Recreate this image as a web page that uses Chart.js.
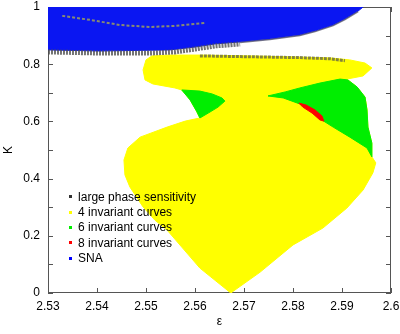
<!DOCTYPE html>
<html>
<head>
<meta charset="utf-8">
<script src="https://cdn.jsdelivr.net/npm/chart.js@4/dist/chart.umd.min.js"></script>
<style>
  body { margin: 0; background: #fff; }
  #wrap { width: 400px; height: 334px; }
</style>
</head>
<body>
<div id="wrap"><canvas id="phaseCanvas" width="400" height="334"></canvas></div>
<script>
// region outlines in (epsilon, K)
// 4 invariant curves: upper lobe, lower lobe and the waist between the green patches
const fourCurvesUpper = [
  [2.5951, 0.640], [2.5947, 0.685], [2.5931, 0.720], [2.5910, 0.748], [2.5943, 0.759],
  [2.5961, 0.787], [2.5947, 0.804], [2.5916, 0.815], [2.5876, 0.822], [2.5814, 0.825],
  [2.5712, 0.829], [2.5610, 0.832], [2.5549, 0.832], [2.5512, 0.829], [2.5500, 0.815],
  [2.5494, 0.780], [2.5498, 0.745], [2.5514, 0.731], [2.5559, 0.717], [2.5573, 0.710],
  [2.5590, 0.675], [2.5604, 0.633], [2.5610, 0.612], [2.5951, 0.600]
];
const fourCurvesLower = [
  [2.5604, 0.633], [2.5610, 0.612], [2.5580, 0.601], [2.5543, 0.580], [2.5488, 0.545],
  [2.5463, 0.507], [2.5455, 0.465], [2.5457, 0.413], [2.5467, 0.371], [2.5494, 0.301],
  [2.5518, 0.255], [2.5543, 0.220], [2.5610, 0.087], [2.5673, 0.000], [2.5733, 0.073],
  [2.5800, 0.168], [2.5861, 0.227], [2.5910, 0.297], [2.5943, 0.360], [2.5963, 0.420],
  [2.5969, 0.455], [2.5961, 0.476], [2.5961, 0.524], [2.5953, 0.580], [2.5951, 0.640],
  [2.5947, 0.685], [2.5700, 0.700]
];
const fourCurvesWaist = [
  [2.5590, 0.745], [2.5780, 0.745], [2.5780, 0.640], [2.5610, 0.620], [2.5590, 0.680]
];
const sixCurvesRight = [
  [2.5749, 0.689], [2.5784, 0.703], [2.5814, 0.717], [2.5855, 0.734], [2.5896, 0.748],
  [2.5912, 0.745], [2.5931, 0.720], [2.5947, 0.685], [2.5951, 0.640], [2.5953, 0.580],
  [2.5961, 0.524], [2.5961, 0.476], [2.5951, 0.507], [2.5916, 0.545], [2.5882, 0.580],
  [2.5859, 0.605], [2.5835, 0.636], [2.5814, 0.661], [2.5780, 0.682], [2.5749, 0.689]
];
const sixCurvesLeft = [
  [2.5573, 0.710], [2.5610, 0.706], [2.5635, 0.696], [2.5655, 0.682], [2.5661, 0.671],
  [2.5647, 0.650], [2.5627, 0.629], [2.5610, 0.612], [2.5604, 0.633], [2.5590, 0.675],
  [2.5573, 0.710]
];
const eightCurves = [
  [2.5812, 0.664], [2.5827, 0.657], [2.5845, 0.640], [2.5859, 0.619], [2.5863, 0.601],
  [2.5855, 0.605], [2.5839, 0.629], [2.5820, 0.650], [2.5812, 0.664]
];
const sna = [
  [2.5300, 1.000], [2.5943, 1.000], [2.5933, 0.986], [2.5906, 0.958], [2.5882, 0.937],
  [2.5845, 0.916], [2.5814, 0.902], [2.5753, 0.888], [2.5692, 0.878], [2.5641, 0.871],
  [2.5600, 0.860], [2.5549, 0.850], [2.5406, 0.846], [2.5300, 0.850], [2.5300, 1.000]
];
// large phase sensitivity streaks
const sensBandSna = [
  [2.5300, 0.843], [2.5406, 0.839], [2.5508, 0.839], [2.5559, 0.843], [2.5600, 0.853],
  [2.5641, 0.864], [2.5692, 0.871]
];
const sensEdgeSna = [
  [2.5692, 0.876], [2.5753, 0.886], [2.5814, 0.900], [2.5845, 0.914], [2.5882, 0.935],
  [2.5906, 0.956], [2.5933, 0.984]
];
const sensBandTop = [
  [2.5610, 0.829], [2.5712, 0.826], [2.5814, 0.823], [2.5876, 0.819], [2.5906, 0.812]
];
const streakInSna = [
  [2.5329, 0.969], [2.5386, 0.955], [2.5447, 0.937], [2.5508, 0.930], [2.5559, 0.934],
  [2.5620, 0.944]
];

const xTicks = [2.53, 2.54, 2.55, 2.56, 2.57, 2.58, 2.59, 2.6];
const yTickLabels = ['0', '0.2', '0.4', '0.6', '0.8', '1'];
const legendLabels = ['large phase sensitivity', '4 invariant curves', '6 invariant curves', '8 invariant curves', 'SNA'];
const legendColors = ['#333333', '#ffff00', '#00ee00', '#ff0000', '#0000ff'];

const FONT = 'Liberation Sans, Arial, sans-serif';
Chart.defaults.font.family = FONT;
Chart.defaults.font.size = 12;
Chart.defaults.color = '#000';

function region(data, color) {
  return { data: data, showLine: false, polyColor: color, pointRadius: 0 };
}
function streak(data, color, width, dash) {
  return {
    data: data,
    showLine: true,
    fill: false,
    borderColor: color,
    borderWidth: width,
    borderDash: dash,
    pointRadius: 0,
    tension: 0
  };
}

// frame + inward ticks like gnuplot, then the filled regions on top
const regionPlugin = {
  id: 'regions',
  beforeDatasetsDraw(chart) {
    const { ctx, chartArea: a, scales } = chart;
    const sx = scales.x, sy = scales.y;
    ctx.save();
    ctx.strokeStyle = '#555';
    ctx.lineWidth = 1;
    ctx.strokeRect(a.left + 0.5, a.top + 0.5, a.right - a.left - 1, a.bottom - a.top - 1);
    ctx.beginPath();
    sx.ticks.forEach(t => {
      const px = Math.round(sx.getPixelForValue(t.value)) + 0.5;
      ctx.moveTo(px, a.bottom); ctx.lineTo(px, a.bottom - 5);
      ctx.moveTo(px, a.top); ctx.lineTo(px, a.top + 5);
    });
    sy.ticks.forEach(t => {
      const py = Math.round(sy.getPixelForValue(t.value)) + 0.5;
      ctx.moveTo(a.left, py); ctx.lineTo(a.left + 5, py);
      ctx.moveTo(a.right, py); ctx.lineTo(a.right - 5, py);
    });
    ctx.stroke();

    ctx.beginPath();
    ctx.rect(a.left, a.top, a.right - a.left, a.bottom - a.top);
    ctx.clip();
    chart.data.datasets.forEach(ds => {
      if (!ds.polyColor) return;
      ctx.beginPath();
      ds.data.forEach((d, i) => {
        const px = sx.getPixelForValue(d[0]), py = sy.getPixelForValue(d[1]);
        i ? ctx.lineTo(px, py) : ctx.moveTo(px, py);
      });
      ctx.closePath();
      ctx.fillStyle = ds.polyColor;
      ctx.strokeStyle = ds.polyColor;
      ctx.lineWidth = 1;
      ctx.fill();
      ctx.stroke();
    });
    ctx.restore();
  }
};

const legendPlugin = {
  id: 'innerLegend',
  afterDatasetsDraw(chart) {
    const { ctx, scales } = chart;
    const x0 = scales.x.getPixelForValue(2.5345);
    ctx.save();
    ctx.font = '12px ' + FONT;
    ctx.textBaseline = 'middle';
    legendLabels.forEach((lab, i) => {
      const y = scales.y.getPixelForValue(0.338 - i * 0.0535);
      ctx.fillStyle = legendColors[i];
      ctx.fillRect(Math.round(x0) - 1, Math.round(y) - 1, 3, 3);
      ctx.fillStyle = '#000';
      ctx.fillText(lab, x0 + 8, y + 1);
    });
    ctx.restore();
  }
};

const ctx = document.getElementById('phaseCanvas').getContext('2d');
new Chart(ctx, {
  type: 'scatter',
  data: {
    // regions are painted in this order (bottom first)
    datasets: [
      region(fourCurvesLower, '#ffff00'),
      region(fourCurvesUpper, '#ffff00'),
      region(fourCurvesWaist, '#ffff00'),
      region(sna, '#0a16f2'),
      region(sixCurvesRight, '#00ee00'),
      region(sixCurvesLeft, '#00ee00'),
      region(eightCurves, '#ff0000'),
      streak(streakInSna, 'rgba(190,190,60,0.7)', 2, [3, 2]),
      streak(sensBandSna, 'rgba(80,80,80,0.8)', 5, [2, 1]),
      streak(sensEdgeSna, 'rgba(90,90,110,0.8)', 1.5, []),
      streak(sensBandTop, 'rgba(80,80,80,0.7)', 3, [3, 1])
    ]
  },
  options: {
    responsive: false,
    animation: false,
    devicePixelRatio: 1,
    layout: { padding: { left: 0, right: 9, top: 7, bottom: 0 } },
    plugins: { legend: { display: false }, tooltip: { enabled: false } },
    scales: {
      x: {
        type: 'linear',
        min: 2.53,
        max: 2.6,
        afterFit: s => { s.height = 41; s.paddingLeft = 0; s.paddingRight = 0; },
        afterBuildTicks: s => { s.ticks = xTicks.map(v => ({ value: v })); },
        grid: { display: false, drawTicks: false },
        border: { display: false },
        ticks: {
          autoSkip: false,
          maxRotation: 0,
          padding: 6,
          callback: v => String(Number(v.toFixed(2)))
        },
        title: { display: true, text: 'ε', font: { size: 12 }, padding: { top: 0, bottom: 5 } }
      },
      y: {
        type: 'linear',
        min: 0,
        max: 1,
        afterFit: s => { s.width = 48; s.paddingTop = 0; s.paddingBottom = 0; },
        grid: { display: false, drawTicks: false },
        border: { display: false },
        ticks: {
          stepSize: 0.1,
          autoSkip: false,
          padding: 8,
          callback: v => {
            const k = Math.round(v * 10);
            return k % 2 === 0 ? yTickLabels[k / 2] : '';
          }
        },
        title: { display: true, text: 'K', font: { size: 12 }, padding: { top: 1, bottom: 0 } }
      }
    }
  },
  plugins: [regionPlugin, legendPlugin]
});
</script>
</body>
</html>
